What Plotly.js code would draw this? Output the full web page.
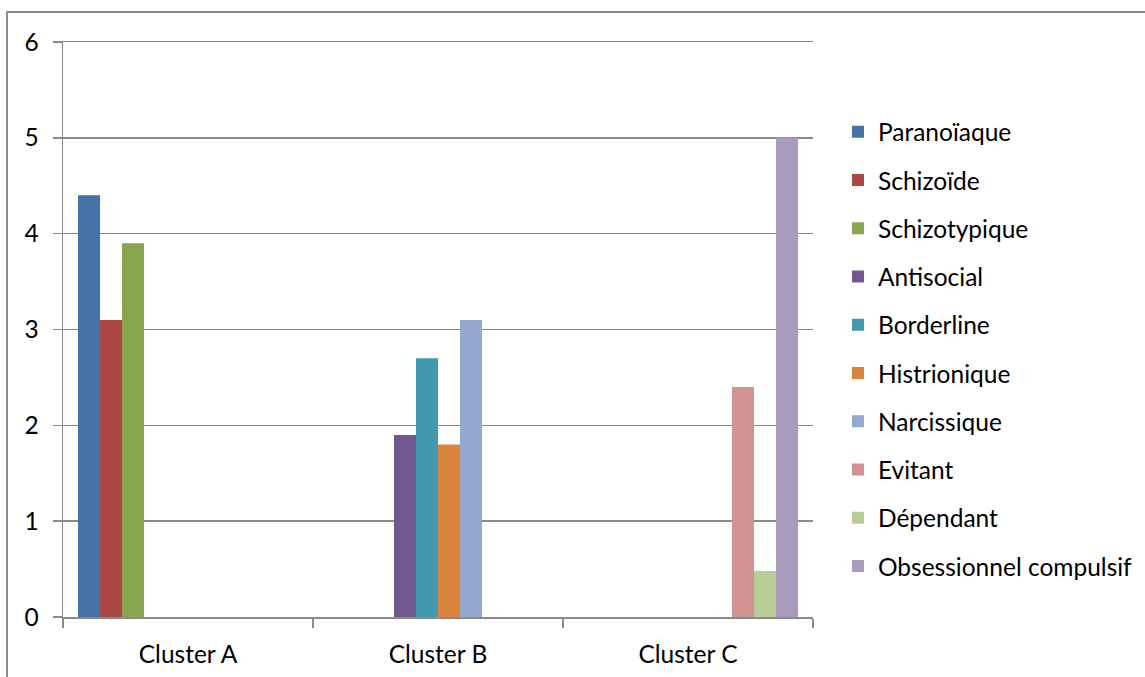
<!DOCTYPE html>
<html>
<head>
<meta charset="utf-8">
<script src="https://cdn.plot.ly/plotly-3.0.1.min.js"></script>
<style>
  html, body { margin:0; padding:0; background:#fff; overflow:hidden; }
  #chart { position:absolute; left:0; top:0; width:1145px; height:677px; }
  #frame { position:absolute; left:6px; top:11px; width:2000px; height:2000px;
           border:2px solid #8a8a8a; pointer-events:none; box-sizing:border-box; }
</style>
</head>
<body>
<div id="chart"></div>
<div id="frame"></div>
<script>
const categories = ["Cluster A", "Cluster B", "Cluster C"];
const seriesNames = ["Paranoïaque", "Schizoïde", "Schizotypique", "Antisocial", "Borderline",
                     "Histrionique", "Narcissique", "Evitant", "Dépendant", "Obsessionnel compulsif"];
const paranoiaque   = [4.4, null, null];
const schizoide     = [3.1, null, null];
const schizotypique = [3.9, null, null];
const antisocial    = [null, 1.9, null];
const borderline    = [null, 2.7, null];
const histrionique  = [null, 1.8, null];
const narcissique   = [null, 3.1, null];
const evitant       = [null, null, 2.4];
const dependant     = [null, null, 0.48];
const obsessionnel  = [null, null, 5.0];
const seriesValues = [paranoiaque, schizoide, schizotypique, antisocial, borderline,
                      histrionique, narcissique, evitant, dependant, obsessionnel];
const colors = ["#4572A7", "#AA4643", "#89A54E", "#71588F", "#4198AF",
                "#DB843D", "#93A9CF", "#D19392", "#B9CD96", "#A99BBD"];
const yTicks = [0, 1, 2, 3, 4, 5, 6];

const FONT = "Lato, 'Open Sans', sans-serif";
const FS = 24.5;
const traces = seriesNames.map((n, i) => ({
  type: "bar", name: n, x: categories, y: seriesValues[i],
  legendgroup: "g" + i,
  marker: { color: colors[i], line: { width: 0 } },
  hoverinfo: "name+y"
}));

const layout = {
  width: 1145, height: 677,
  margin: { l: 63, r: 332, t: 42, b: 59.5, pad: 0, autoexpand: false },
  paper_bgcolor: "#ffffff", plot_bgcolor: "#ffffff",
  font: { family: FONT, size: FS, color: "#000" },
  barmode: "group", bargap: 0.12, bargroupgap: 0,
  showlegend: true,
  legend: {
    x: 1.0333, xanchor: "left", y: 0.883, yanchor: "top",
    font: { family: FONT, size: FS, color: "#000" },
    tracegroupgap: 13.4, itemwidth: 30, bgcolor: "rgba(0,0,0,0)"
  },
  xaxis: {
    type: "category", range: [-0.5, 2.5],
    showline: true, mirror: true, linecolor: "#8a8a8a", linewidth: 1.5,
    ticks: "outside", tickson: "boundaries", ticklen: 9, tickcolor: "#8a8a8a", tickwidth: 1.5,
    showgrid: false, zeroline: false, ticklabelstandoff: 15, automargin: false,
    tickfont: { family: FONT, size: FS, color: "#000" }
  },
  yaxis: {
    range: [0, 6], tickvals: yTicks, ticktext: yTicks.map(String),
    showline: true, linecolor: "#8a8a8a", linewidth: 1.5,
    ticks: "outside", ticklen: 9, tickcolor: "#8a8a8a", tickwidth: 1.5,
    showgrid: true, gridcolor: "#8a8a8a", gridwidth: 1.5, zeroline: false,
    ticklabelstandoff: 9, automargin: false,
    tickfont: { family: FONT, size: FS, color: "#000" }
  }
};

Plotly.newPlot("chart", traces, layout, { displayModeBar: false, staticPlot: true });
</script>
</body>
</html>
